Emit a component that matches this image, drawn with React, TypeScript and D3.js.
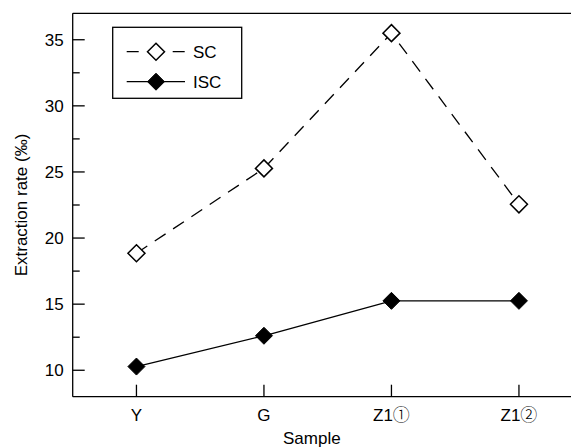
import React from "react";
import * as d3 from "d3";

const categories = ["Y", "G", "Z1①", "Z1②"];
const scValues = [18.85, 25.27, 35.5, 22.55];
const iscValues = [10.28, 12.61, 15.25, 15.25];
const yTicks = [10, 15, 20, 25, 30, 35];
const yMinorTicks = [12.5, 17.5, 22.5, 27.5, 32.5];

const W = 571;
const H = 448;
const left = 72.7;
const top = 13.3;
const bottom = 396.7;
const right = 582.7;
const font = "'Liberation Sans', Arial, sans-serif";
const cjk = "'Noto Sans CJK SC', sans-serif";

function label(c: string) {
  const m = c.match(/^(.*?)([①-⑳])$/);
  if (!m) return c;
  return (
    <>
      {m[1]}
      <tspan fontFamily={cjk} fontWeight={300}>{m[2]}</tspan>
    </>
  );
}

export default function App() {
  const x = d3.scalePoint<string>().domain(categories).range([left, right]).padding(0.5);
  const y = d3.scaleLinear().domain([8, 37]).range([bottom, top]);
  const line = d3
    .line<number>()
    .x((_, i) => x(categories[i]) as number)
    .y((d) => y(d));
  const diamond = (cx: number, cy: number, r: number) =>
    `M${cx},${cy - r}L${cx + r},${cy}L${cx},${cy + r}L${cx - r},${cy}Z`;
  const r = 8.5;
  const axisColor = "#000";
  const fs = 17;
  return (
    <svg
      width={W}
      height={H}
      style={{ position: "absolute", left: 0, top: 0, background: "#fff" }}
      fontFamily={font}
    >
      <rect x={0} y={0} width={W} height={H} fill="#fff" />
      {/* frame */}
      <line x1={left} y1={top} x2={W} y2={top} stroke={axisColor} strokeWidth={1.3} />
      <line x1={left} y1={bottom} x2={W} y2={bottom} stroke={axisColor} strokeWidth={1.3} />
      <line x1={left} y1={top} x2={left} y2={bottom} stroke={axisColor} strokeWidth={1.3} />
      {/* y ticks */}
      {yTicks.map((t) => (
        <g key={t}>
          <line x1={left} x2={left + 12} y1={y(t)} y2={y(t)} stroke={axisColor} strokeWidth={1.3} />
          <text x={left - 9} y={y(t)} dy="0.36em" textAnchor="end" fontSize={fs}>
            {t}
          </text>
        </g>
      ))}
      {yMinorTicks.map((t) => (
        <line key={t} x1={left} x2={left + 7} y1={y(t)} y2={y(t)} stroke={axisColor} strokeWidth={1.3} />
      ))}
      {/* x ticks */}
      {categories.map((c) => (
        <g key={c}>
          <line x1={x(c)} x2={x(c)} y1={bottom} y2={bottom - 12} stroke={axisColor} strokeWidth={1.3} />
          <text x={x(c)} y={bottom + 18} dy="0.36em" textAnchor="middle" fontSize={fs}>
            {label(c)}
          </text>
        </g>
      ))}
      <text x={(left + 571) / 2 - 10} y={438} dy="0.36em" textAnchor="middle" fontSize={fs}>
        Sample
      </text>
      <text
        transform={`translate(21,${(top + bottom) / 2}) rotate(-90)`}
        textAnchor="middle"
        dy="0.36em"
        fontSize={fs}
      >
        Extraction rate (‰)
      </text>
      {/* series */}
      <path d={line(scValues) as string} fill="none" stroke="#000" strokeWidth={1.3} strokeDasharray="13,9" />
      <path d={line(iscValues) as string} fill="none" stroke="#000" strokeWidth={1.3} />
      {scValues.map((v, i) => (
        <path key={"sc" + i} d={diamond(x(categories[i]) as number, y(v), r)} fill="#fff" stroke="#000" strokeWidth={1.5} />
      ))}
      {iscValues.map((v, i) => (
        <path key={"isc" + i} d={diamond(x(categories[i]) as number, y(v), r)} fill="#000" stroke="#000" strokeWidth={1} />
      ))}
      {/* legend */}
      <rect x={112.7} y={27.3} width={129} height={71} fill="#fff" stroke="#000" strokeWidth={1.3} />
      <line x1={126.7} x2={185} y1={51.7} y2={51.7} stroke="#000" strokeWidth={1.3} strokeDasharray="12,11" />
      <path d={diamond(156, 51.7, r)} fill="#fff" stroke="#000" strokeWidth={1.5} />
      <text x={193} y={51.7} dy="0.36em" fontSize={fs}>
        SC
      </text>
      <line x1={126.7} x2={185} y1={81.7} y2={81.7} stroke="#000" strokeWidth={1.3} />
      <path d={diamond(156, 81.7, r)} fill="#000" stroke="#000" strokeWidth={1} />
      <text x={193} y={81.7} dy="0.36em" fontSize={fs}>
        ISC
      </text>
    </svg>
  );
}
